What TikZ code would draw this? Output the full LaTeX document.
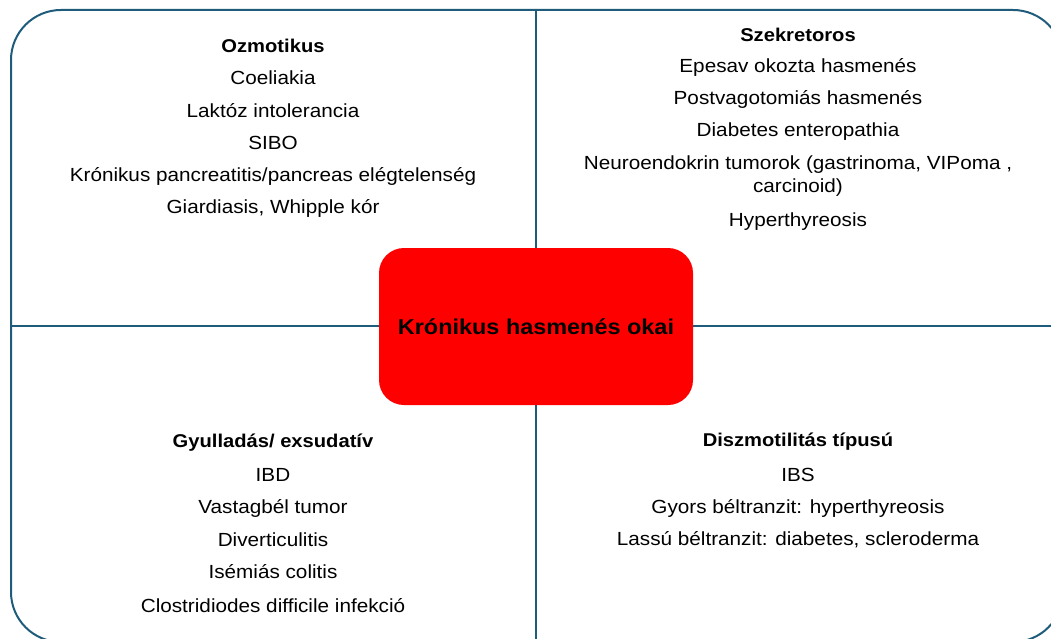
\documentclass[tikz,border=0pt]{standalone}
\usepackage{fontspec}
\setmainfont[FakeStretch=1.09]{Liberation Sans}
\definecolor{frame}{RGB}{31,92,124}
\definecolor{hub}{RGB}{255,0,0}
\tikzset{
  body/.style={font=\fontsize{19}{22}\selectfont, text=black, inner sep=0pt, anchor=center},
  head/.style={body, font=\fontsize{18.5}{22}\selectfont\bfseries},
  rule/.style={draw=frame, line width=2pt},
}
\begin{document}
\begin{tikzpicture}[x=1pt,y=-1pt]
\useasboundingbox (0,0) rectangle (1051,639);
\clip (0,0) rectangle (1051,639);
% outer frame and quadrant dividers
\coordinate (topmid) at (536,10);
\coordinate (botmid) at (536,660);
\coordinate (leftmid) at (11,326);
\coordinate (rightmid) at (1070,326);
\draw[rule, rounded corners=50pt] (11,10) rectangle (1063,642);
\draw[rule] (topmid) -- (botmid);
\draw[rule] (leftmid) -- (rightmid);
% central box
\node[fill=hub, rounded corners=25pt, minimum width=314pt, minimum height=157pt, inner sep=0pt,
      font=\fontsize{21.5}{24}\selectfont\bfseries] (hubbox) at (536,326.5) {Krónikus hasmenés okai};
% osmotic
\node[head] (o0) at (273,46) {Ozmotikus};
\node[body] (o1) at (273,78) {Coeliakia};
\node[body] (o2) at (273,111) {Laktóz intolerancia};
\node[body] (o3) at (273,143) {SIBO};
\node[body] (o4) at (273,176) {Krónikus pancreatitis/pancreas elégtelenség};
\node[body] (o5) at (273,208) {Giardiasis, Whipple kór};
% secretory
\node[head] (s0) at (798,35) {Szekretoros};
\node[body] (s1) at (798,67) {Epesav okozta hasmenés};
\node[body] (s2) at (798,99) {Postvagotomiás hasmenés};
\node[body] (s3) at (798,132) {Diabetes enteropathia};
\node[body] (s4) at (798,165) {Neuroendokrin tumorok (gastrinoma, VIPoma ,};
\node[body] (s5) at (798,188) {carcinoid)};
\node[body] (s6) at (798,222) {Hyperthyreosis};
% inflammatory
\node[head] (g0) at (273,443) {Gyulladás/ exsudatív};
\node[body] (g1) at (273,475) {IBD};
\node[body] (g2) at (273,508) {Vastagbél tumor};
\node[body] (g3) at (273,540) {Diverticulitis};
\node[body] (g4) at (273,572) {Isémiás colitis};
\node[body] (g5) at (273,606) {Clostridiodes difficile infekció};
% dysmotility
\node[head] (d0) at (798,442) {Diszmotilitás típusú};
\node[body] (d1) at (798,475) {IBS};
\node[body] (d2) at (798,508) {Gyors béltranzit: hyperthyreosis};
\node[body] (d3) at (798,540) {Lassú béltranzit: diabetes, scleroderma};
\end{tikzpicture}
\end{document}
